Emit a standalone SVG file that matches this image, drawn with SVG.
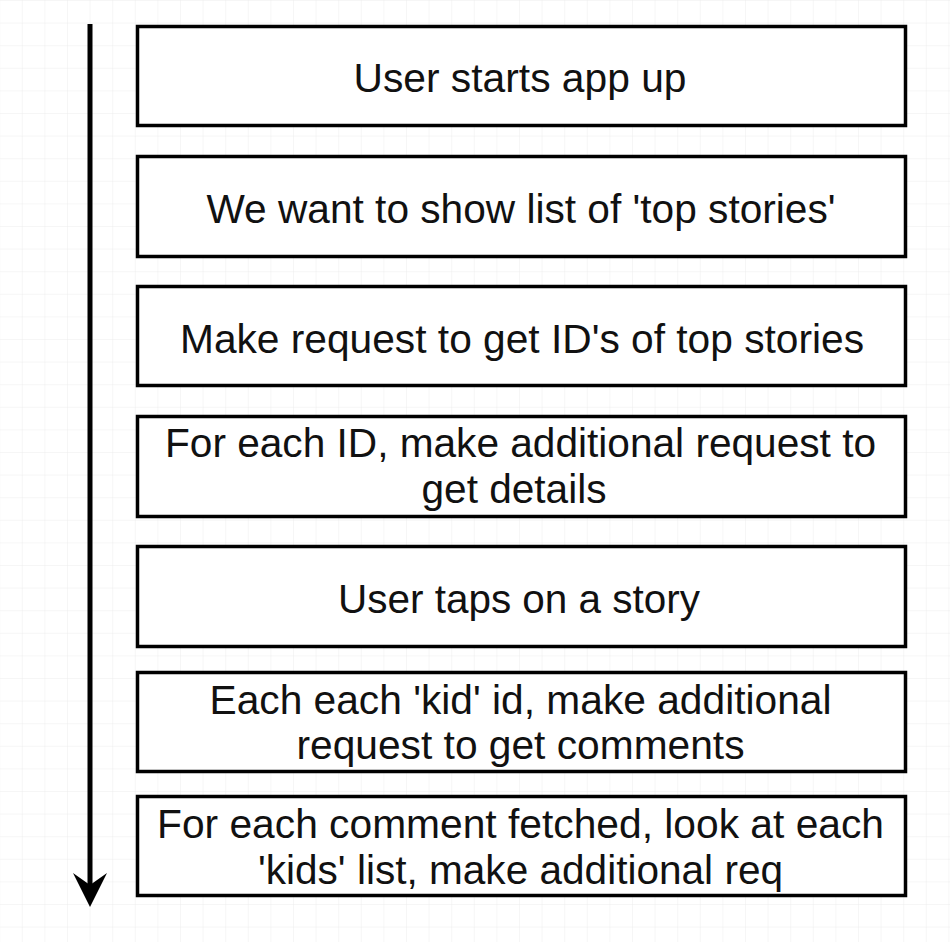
<svg xmlns="http://www.w3.org/2000/svg" width="950" height="942" viewBox="0 0 950 942">
  <style>
    .box { fill: #ffffff; stroke: #000000; stroke-width: 3.5; }
    .lbl { font-family: "Liberation Sans", Arial, Helvetica, sans-serif; font-size: 40px; fill: #111111; text-anchor: middle; }
  </style>
  <defs>
    <pattern id="grid" x="-0.8" y="0" width="22.6" height="22.6" patternUnits="userSpaceOnUse">
      <path d="M 0 0 L 22.6 0 M 0 0 L 0 22.6" fill="none" stroke="#ededed" stroke-width="1"/>
    </pattern>
  </defs>
  <rect x="0" y="0" width="950" height="942" fill="#ffffff"/>
  <rect x="0" y="0" width="950" height="942" fill="url(#grid)"/>

  <g id="connectors">
    <line x1="90" y1="24" x2="90" y2="886" stroke="#000000" stroke-width="5"/>
    <polygon points="90,907 73,873 90,885 107,873" fill="#000000"/>
  </g>

  <g id="node1">
    <rect class="box" x="137.5" y="26.5" width="768" height="99"/>
    <text class="lbl" x="520" y="92" textLength="333" lengthAdjust="spacingAndGlyphs">User starts app up</text>
  </g>
  <g id="node2">
    <rect class="box" x="137.5" y="156.5" width="768" height="100"/>
    <text class="lbl" x="521" y="223" textLength="629" lengthAdjust="spacingAndGlyphs">We want to show list of 'top stories'</text>
  </g>
  <g id="node3">
    <rect class="box" x="137.5" y="286.5" width="768" height="99"/>
    <text class="lbl" x="522" y="353" textLength="684" lengthAdjust="spacingAndGlyphs">Make request to get ID's of top stories</text>
  </g>
  <g id="node4">
    <rect class="box" x="137.5" y="416.5" width="768" height="100"/>
    <text class="lbl" x="520.5" y="457" textLength="711" lengthAdjust="spacingAndGlyphs">For each ID, make additional request to</text>
    <text class="lbl" x="514" y="503" textLength="185" lengthAdjust="spacingAndGlyphs">get details</text>
  </g>
  <g id="node5">
    <rect class="box" x="137.5" y="546.5" width="768" height="100"/>
    <text class="lbl" x="519" y="613" textLength="362" lengthAdjust="spacingAndGlyphs">User taps on a story</text>
  </g>
  <g id="node6">
    <rect class="box" x="137.5" y="672.5" width="768" height="99"/>
    <text class="lbl" x="520.5" y="714" textLength="622" lengthAdjust="spacingAndGlyphs">Each each 'kid' id, make additional</text>
    <text class="lbl" x="520.5" y="759" textLength="448" lengthAdjust="spacingAndGlyphs">request to get comments</text>
  </g>
  <g id="node7">
    <rect class="box" x="137.5" y="796.5" width="768" height="99"/>
    <text class="lbl" x="520.5" y="838" textLength="727" lengthAdjust="spacingAndGlyphs">For each comment fetched, look at each</text>
    <text class="lbl" x="520.5" y="884" textLength="525" lengthAdjust="spacingAndGlyphs">'kids' list, make additional req</text>
  </g>
</svg>
